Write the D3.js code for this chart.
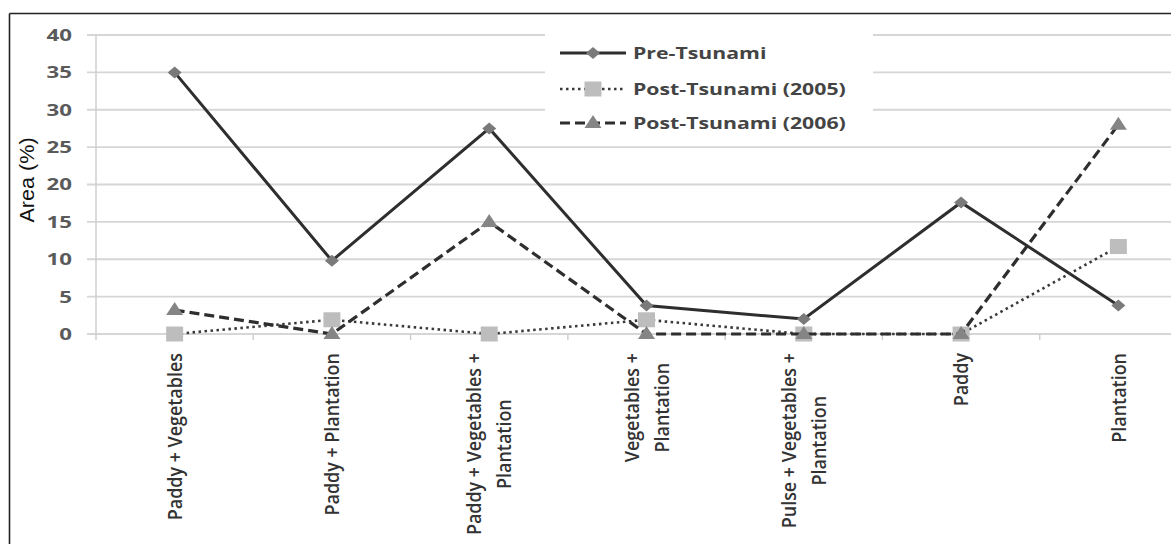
<!DOCTYPE html>
<html><head><meta charset="utf-8">
<script src="https://cdn.jsdelivr.net/npm/d3@7"></script>
<style>body{margin:0;background:#fff;} svg{display:block;}</style>
</head><body>
<svg id="chart" width="1171" height="544"></svg>
<script>
const categories = [
  ["Paddy + Vegetables"],
  ["Paddy + Plantation"],
  ["Paddy + Vegetables +", "Plantation"],
  ["Vegetables +", "Plantation"],
  ["Pulse + Vegetables +", "Plantation"],
  ["Paddy"],
  ["Plantation"]
];
const preTsunami = [35, 9.8, 27.5, 3.8, 2, 17.6, 3.8];
const post2005 = [0, 1.9, 0, 1.9, 0, 0, 11.7];
const post2006 = [3.2, 0, 15, 0, 0, 0, 28];
const yTicks = [0, 5, 10, 15, 20, 25, 30, 35, 40];
const seriesNames = ["Pre-Tsunami", "Post-Tsunami (2005)", "Post-Tsunami (2006)"];
const yTitle = "Area (%)";

(function () {
const svg = d3.select("#chart");
const W = 1171, H = 544;
const pLeft = 96, pRight = 1197, pTop = 35, pBottom = 334;
const FONT = "Open Sans, sans-serif";

// outer frame (left & top)
svg.append("line").attr("x1", 9.5).attr("x2", 9.5).attr("y1", 13.5).attr("y2", H).attr("stroke", "#222").attr("stroke-width", 1.6);
svg.append("line").attr("x1", 9.5).attr("x2", W).attr("y1", 13.5).attr("y2", 13.5).attr("stroke", "#222").attr("stroke-width", 1.6);

const idx = d3.range(categories.length);
const x = d3.scaleBand().domain(idx).range([pLeft, pRight]);
const y = d3.scaleLinear().domain([0, 40]).range([pBottom, pTop]);
const cx = i => x(i) + x.bandwidth() / 2;

// gridlines
svg.append("g").selectAll("line").data(yTicks).join("line")
  .attr("x1", 87).attr("x2", W)
  .attr("y1", d => y(d)).attr("y2", d => y(d))
  .attr("stroke", "#d6d6d6").attr("stroke-width", 1.8);

// y axis line
svg.append("line").attr("x1", pLeft).attr("x2", pLeft).attr("y1", pTop).attr("y2", pBottom + 6)
  .attr("stroke", "#cfcfcf").attr("stroke-width", 1.5);
// x tick marks at band boundaries
svg.append("g").selectAll("line").data(d3.range(1, categories.length + 1)).join("line")
  .attr("x1", i => x.step() * i + pLeft).attr("x2", i => x.step() * i + pLeft)
  .attr("y1", pBottom).attr("y2", pBottom + 6)
  .attr("stroke", "#cfcfcf").attr("stroke-width", 1.5);

// y tick labels
svg.append("g").selectAll("text").data(yTicks).join("text")
  .attr("transform", d => `translate(72,${y(d)}) scale(1.35,1)`)
  .attr("dy", "0.36em")
  .attr("text-anchor", "end")
  .attr("font-family", FONT).attr("font-weight", 700).attr("font-size", 16.5)
  .attr("fill", "#5a5a5a").text(d => d);

// y title
svg.append("text").attr("transform", "translate(34,180) rotate(-90) scale(1.08,1)")
  .attr("text-anchor", "middle")
  .attr("font-family", "Liberation Sans, Arial, sans-serif").attr("font-size", 20)
  .attr("fill", "#111").text(yTitle);

// x labels (rotated, lines centred on each other, block anchored below axis)
const lab = svg.append("g");
const SX = 1.12, SY = 1.25, LFS = 16, LH = 30, LTOP = 353;
categories.forEach((lines, i) => {
  const n = lines.length;
  const nodes = lines.map(t => lab.append("text")
      .attr("font-family", FONT).attr("font-weight", 600).attr("font-size", LFS)
      .attr("fill", "#333").attr("text-anchor", "middle").text(t));
  const maxLen = d3.max(nodes, s => s.node().getComputedTextLength()) * SX;
  const centerY = LTOP + maxLen / 2;
  nodes.forEach((s, k) => {
    const off = (k - (n - 1) / 2) * LH;
    const tx = cx(i) + off + 0.36 * LFS * SY;
    s.attr("transform", `translate(${tx},${centerY}) rotate(-90) scale(${SX},${SY})`);
  });
});

const lineGen = d3.line().x((d, i) => cx(i)).y(d => y(d));
const styles = [
  {data: preTsunami, dash: null, w: 3, stroke: "#2e2e2e"},
  {data: post2005, dash: "2.5,3.5", w: 2.6, stroke: "#3a3a3a"},
  {data: post2006, dash: "10,5", w: 3.2, stroke: "#2e2e2e"}
];
const poly = pts => "M" + pts.map(p => p.join(",")).join("L") + "Z";
const markers = [
  {d: poly([[0,-6],[7,0],[0,6],[-7,0]]), fill: "#7a7a7a"},
  {d: poly([[-8.5,-7.5],[8.5,-7.5],[8.5,7.5],[-8.5,7.5]]), fill: "#bdbdbd"},
  {d: poly([[0,-8],[8.5,5],[-8.5,5]]), fill: "#858585"}
];

styles.forEach((s, k) => {
  svg.append("path").datum(s.data).attr("d", lineGen)
    .attr("fill", "none").attr("stroke", s.stroke).attr("stroke-width", s.w)
    .attr("stroke-dasharray", s.dash);
  svg.append("g").selectAll("path").data(s.data).join("path")
    .attr("transform", (d, i) => `translate(${cx(i)},${y(d)})`)
    .attr("d", markers[k].d).attr("fill", markers[k].fill);
});

// legend
const lg = svg.append("g");
lg.append("rect").attr("x", 545).attr("y", 28).attr("width", 328).attr("height", 112).attr("fill", "#fff");
const rows = [53, 89, 123];
seriesNames.forEach((nm, k) => {
  const s = styles[k];
  lg.append("line").attr("x1", 560).attr("x2", 626).attr("y1", rows[k]).attr("y2", rows[k])
    .attr("stroke", s.stroke).attr("stroke-width", s.w).attr("stroke-dasharray", s.dash);
  lg.append("path").attr("transform", `translate(593,${rows[k]})`)
    .attr("d", markers[k].d).attr("fill", markers[k].fill);
  lg.append("text").attr("transform", `translate(633,${rows[k]}) scale(1.33,1)`).attr("dy", "0.36em")
    .attr("font-family", FONT).attr("font-weight", 700).attr("font-size", 16)
    .attr("fill", "#444").text(nm);
});
})();
</script>
</body></html>
